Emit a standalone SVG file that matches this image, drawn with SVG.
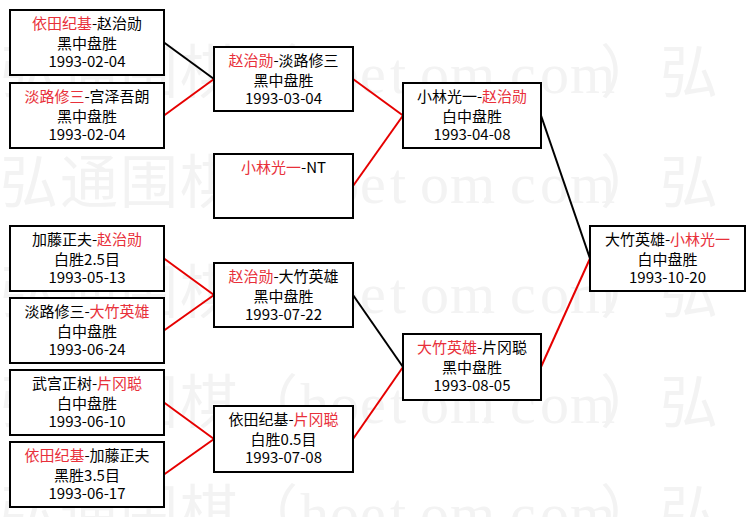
<svg xmlns="http://www.w3.org/2000/svg" width="755" height="517" viewBox="0 0 755 517">
<style>
.wm{font-family:"Liberation Serif","Noto Sans CJK SC",serif;font-size:58px;fill:#f3f3f3}
.box{fill:#ffffff;stroke:#000000;stroke-width:2}
.t{font-family:"Noto Sans CJK SC","Noto Sans",sans-serif;font-size:15px;fill:#000000;text-anchor:middle}
.r{fill:#e8303a}
.lk{stroke:#000000;stroke-width:2;fill:none}
.lr{stroke:#e60000;stroke-width:2;fill:none}
</style>
<rect x="0" y="0" width="755" height="517" fill="#ffffff"/>
<g id="watermark">
<text class="wm" y="93" x="0 60 120 180 240 300 330 360 390 420 450 480 510 540 570 600 660">弘通围棋（hoetom.com）弘</text>
<text class="wm" y="203" x="0 60 120 180 240 300 330 360 390 420 450 480 510 540 570 600 660">弘通围棋（hoetom.com）弘</text>
<text class="wm" y="313" x="0 60 120 180 240 300 330 360 390 420 450 480 510 540 570 600 660">弘通围棋（hoetom.com）弘</text>
<text class="wm" y="423" x="0 60 120 180 240 300 330 360 390 420 450 480 510 540 570 600 660">弘通围棋（hoetom.com）弘</text>
<text class="wm" y="533" x="0 60 120 180 240 300 330 360 390 420 450 480 510 540 570 600 660">弘通围棋（hoetom.com）弘</text>
</g>
<g id="connectors">
<line class="lk" x1="164" y1="42.5" x2="214" y2="79"/>
<line class="lr" x1="164" y1="115.5" x2="214" y2="79"/>
<line class="lr" x1="164" y1="258.5" x2="214" y2="295"/>
<line class="lr" x1="164" y1="330.5" x2="214" y2="295"/>
<line class="lr" x1="164" y1="402.5" x2="214" y2="439"/>
<line class="lr" x1="164" y1="474.5" x2="214" y2="439"/>
<line class="lr" x1="353" y1="79" x2="403" y2="115.5"/>
<line class="lr" x1="353" y1="186" x2="403" y2="115.5"/>
<line class="lk" x1="353" y1="295" x2="403" y2="367"/>
<line class="lr" x1="353" y1="439" x2="403" y2="367"/>
<line class="lk" x1="541" y1="115.5" x2="590" y2="258.5"/>
<line class="lr" x1="541" y1="367" x2="590" y2="258.5"/>
</g>
<g id="nA">
<rect class="box" x="10" y="10" width="154" height="65"/>
<text class="t" x="87" y="29"><tspan class="r">依田纪基</tspan>-赵治勋</text>
<text class="t" x="87" y="49">黑中盘胜</text>
<text class="t" x="87" y="67">1993-02-04</text>
</g>
<g id="nB">
<rect class="box" x="10" y="83" width="154" height="65"/>
<text class="t" x="87" y="102"><tspan class="r">淡路修三</tspan>-宫泽吾朗</text>
<text class="t" x="87" y="122">黑中盘胜</text>
<text class="t" x="87" y="140">1993-02-04</text>
</g>
<g id="nC">
<rect class="box" x="10" y="226" width="154" height="65"/>
<text class="t" x="87" y="245">加藤正夫-<tspan class="r">赵治勋</tspan></text>
<text class="t" x="87" y="265">白胜2.5目</text>
<text class="t" x="87" y="283">1993-05-13</text>
</g>
<g id="nD">
<rect class="box" x="10" y="298" width="154" height="65"/>
<text class="t" x="87" y="317">淡路修三-<tspan class="r">大竹英雄</tspan></text>
<text class="t" x="87" y="337">白中盘胜</text>
<text class="t" x="87" y="355">1993-06-24</text>
</g>
<g id="nE">
<rect class="box" x="10" y="370" width="154" height="65"/>
<text class="t" x="87" y="389">武宫正树-<tspan class="r">片冈聪</tspan></text>
<text class="t" x="87" y="409">白中盘胜</text>
<text class="t" x="87" y="427">1993-06-10</text>
</g>
<g id="nF">
<rect class="box" x="10" y="442" width="154" height="65"/>
<text class="t" x="87" y="461"><tspan class="r">依田纪基</tspan>-加藤正夫</text>
<text class="t" x="87" y="481">黑胜3.5目</text>
<text class="t" x="87" y="499">1993-06-17</text>
</g>
<g id="nG">
<rect class="box" x="214" y="47" width="139" height="64"/>
<text class="t" x="283.5" y="66"><tspan class="r">赵治勋</tspan>-淡路修三</text>
<text class="t" x="283.5" y="86">黑中盘胜</text>
<text class="t" x="283.5" y="104">1993-03-04</text>
</g>
<g id="nH">
<rect class="box" x="214" y="154" width="139" height="64"/>
<text class="t" x="283.5" y="173"><tspan class="r">小林光一</tspan>-NT</text>
</g>
<g id="nI">
<rect class="box" x="214" y="263" width="139" height="64"/>
<text class="t" x="283.5" y="282"><tspan class="r">赵治勋</tspan>-大竹英雄</text>
<text class="t" x="283.5" y="302">黑中盘胜</text>
<text class="t" x="283.5" y="320">1993-07-22</text>
</g>
<g id="nJ">
<rect class="box" x="214" y="406" width="139" height="66"/>
<text class="t" x="283.5" y="425">依田纪基-<tspan class="r">片冈聪</tspan></text>
<text class="t" x="283.5" y="445">白胜0.5目</text>
<text class="t" x="283.5" y="463">1993-07-08</text>
</g>
<g id="nK">
<rect class="box" x="403" y="83" width="138" height="65"/>
<text class="t" x="472" y="102">小林光一-<tspan class="r">赵治勋</tspan></text>
<text class="t" x="472" y="122">白中盘胜</text>
<text class="t" x="472" y="140">1993-04-08</text>
</g>
<g id="nL">
<rect class="box" x="403" y="334" width="138" height="66"/>
<text class="t" x="472" y="353"><tspan class="r">大竹英雄</tspan>-片冈聪</text>
<text class="t" x="472" y="373">黑中盘胜</text>
<text class="t" x="472" y="391">1993-08-05</text>
</g>
<g id="nM">
<rect class="box" x="590" y="226" width="155" height="65"/>
<text class="t" x="667.5" y="245">大竹英雄-<tspan class="r">小林光一</tspan></text>
<text class="t" x="667.5" y="265">白中盘胜</text>
<text class="t" x="667.5" y="283">1993-10-20</text>
</g>
</svg>
